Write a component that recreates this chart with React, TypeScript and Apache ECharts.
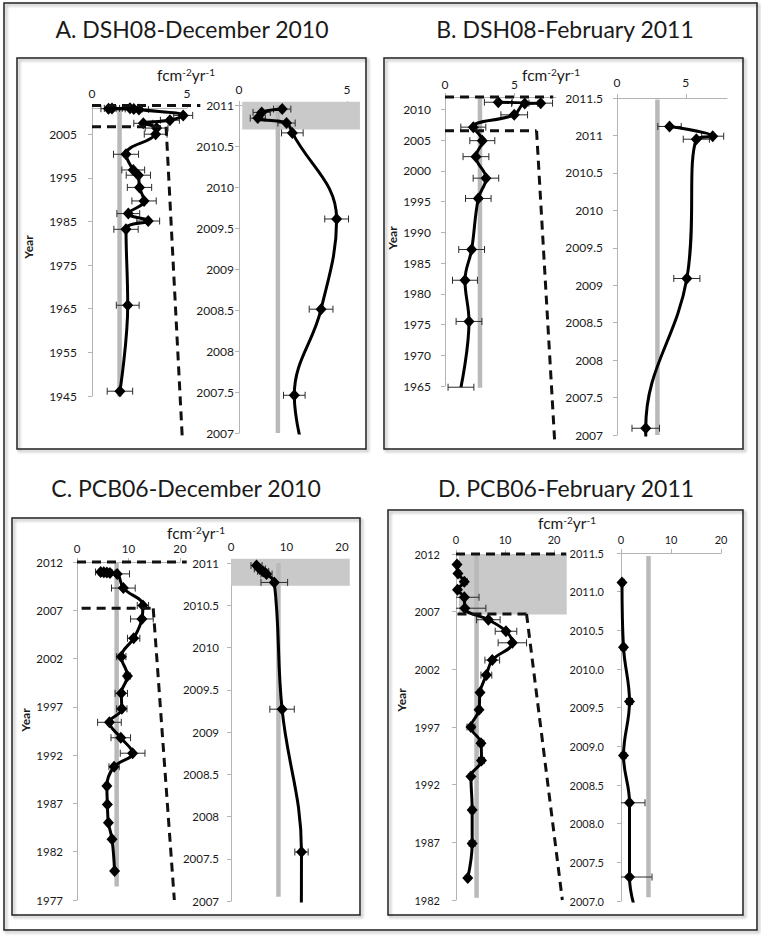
import React, { useEffect, useRef } from "react";
import * as echarts from "echarts";

const FONT = "Lato, 'Open Sans', 'DejaVu Sans', sans-serif";

// ---------- texts ----------
const panelTitles = [
  "A. DSH08-December 2010",
  "B. DSH08-February 2011",
  "C. PCB06-December 2010",
  "D. PCB06-February 2011",
];
const yAxisName = "Year";

// ---------- Panel A: DSH08 December 2010 ----------
const aMainYears = [2010.95, 2010.91, 2010.84, 2010.78, 2010.66, 2009.3, 2008.2, 2007.5, 2006.4, 2005.0, 2000.4, 1996.8, 1995.6, 1992.8, 1989.7, 1986.8, 1985.1, 1983.2, 1965.8, 1946.1];
const aMainFlux = [2.0, 1.05, 0.87, 2.2, 2.47, 4.8, 4.1, 2.7, 3.4, 3.35, 1.79, 2.17, 2.44, 2.5, 2.74, 1.91, 2.96, 1.79, 1.88, 1.47];
const aMainErr = [0.4, 0.4, 0.4, 0.45, 0.5, 0.5, 0.5, 0.5, 0.6, 0.6, 0.66, 0.6, 0.64, 0.64, 0.64, 0.6, 0.6, 0.64, 0.6, 0.67];
const aZoomYears = [2010.95, 2010.91, 2010.84, 2010.78, 2010.66, 2009.61, 2008.51, 2007.46];
const aZoomFlux = [2.0, 1.05, 0.87, 2.2, 2.47, 4.52, 3.8, 2.56];
const aZoomErr = [0.4, 0.4, 0.35, 0.4, 0.5, 0.55, 0.55, 0.5];
const aMainXTicks = [0, 5];
const aMainYTicks = [1945, 1955, 1965, 1975, 1985, 1995, 2005];
const aZoomXTicks = [0, 5];
const aZoomYTicks = [2007, 2007.5, 2008, 2008.5, 2009, 2009.5, 2010, 2010.5, 2011];
const aMainRef = 1.45;
const aMainRefSpan = [2011, 1944.8];
const aZoomRef = 1.8;
const aZoomRefSpan = [2011, 2007];
const aZoomShade = [0.15, 2010.7, 5.6, 2011.04];
const aConnTop = [[0, 2011.6], [5.7, 2011.6]];
const aConnBottom = [[0, 2006.7], [3.9, 2006.7], [4.75, 1935.5]];

// ---------- Panel B: DSH08 February 2011 ----------
const bMainYears = [2011.15, 2011.0, 2010.95, 2009.1, 2007.1, 2004.9, 2002.3, 1998.8, 1995.5, 1987.2, 1982.2, 1975.5, 1964.8];
const bMainFlux = [3.84, 6.9, 5.75, 4.99, 2.04, 2.69, 2.23, 2.95, 2.4, 1.92, 1.44, 1.73, 1.15];
const bMainErr = [1.0, 0.85, 0.95, 0.96, 0.9, 0.9, 0.93, 0.92, 0.92, 0.93, 0.9, 0.93, 0.93];
const bZoomYears = [2011.12, 2010.99, 2010.95, 2009.09, 2007.09];
const bZoomFlux = [3.82, 6.96, 5.77, 5.08, 2.09];
const bZoomErr = [0.85, 0.8, 0.95, 0.95, 1.0];
const bMainXTicks = [0, 5];
const bMainYTicks = [1965, 1970, 1975, 1980, 1985, 1990, 1995, 2000, 2005, 2010];
const bZoomXTicks = [0, 5];
const bZoomYTicks = [2007, 2007.5, 2008, 2008.5, 2009, 2009.5, 2010, 2010.5, 2011, 2011.5];
const bMainRef = 2.52;
const bMainRefSpan = [2012, 1964.7];
const bZoomRef = 2.94;
const bZoomRefSpan = [2011.48, 2007];
const bConnTop = [[0, 2012], [7.8, 2012]];
const bConnBottom = [[0, 2006.5], [6.6, 2006.5], [7.9, 1956.2]];

// ---------- Panel C: PCB06 December 2010 ----------
const cMainYears = [2010.97, 2010.93, 2010.9, 2010.87, 2010.77, 2009.3, 2007.5, 2006.1, 2004.1, 2002.2, 2000.2, 1998.4, 1996.8, 1995.4, 1993.8, 1992.2, 1990.8, 1988.8, 1986.9, 1985.0, 1983.3, 1980.0];
const cMainFlux = [4.6, 5.2, 5.8, 6.4, 7.8, 9.0, 12.8, 12.6, 11.0, 8.6, 9.8, 8.6, 8.7, 6.3, 8.5, 10.8, 7.2, 5.8, 5.9, 6.1, 6.8, 7.3];
const cMainErr = [1.0, 1.0, 1.0, 1.0, 2.4, 2.3, 1.1, 2.2, 1.2, 0.9, 0.6, 1.2, 1.0, 2.3, 1.9, 2.4, 1.0, 0.4, 0.4, 0.4, 0.4, 0.3];
const cZoomYears = [2010.97, 2010.93, 2010.9, 2010.87, 2010.77, 2009.27, 2007.58];
const cZoomFlux = [4.6, 5.2, 5.8, 6.4, 7.8, 9.2, 12.7];
const cZoomErr = [1.0, 1.0, 1.0, 1.0, 2.4, 2.2, 1.2];
const cMainXTicks = [0, 10, 20];
const cMainYTicks = [1977, 1982, 1987, 1992, 1997, 2002, 2007, 2012];
const cZoomXTicks = [0, 10, 20];
const cZoomYTicks = [2007, 2007.5, 2008, 2008.5, 2009, 2009.5, 2010, 2010.5, 2011];
const cMainRef = 7.7;
const cMainRefSpan = [2012, 1978.4];
const cZoomRef = 8.55;
const cZoomRefSpan = [2011, 2007.05];
const cZoomShade = [0, 2010.73, 21.4, 2011.05];
const cConnTop = [[0, 2012], [21.3, 2012]];
const cConnBottom = [[0.9, 2007.2], [14.8, 2007.2], [18.9, 1977]];

// ---------- Panel D: PCB06 February 2011 ----------
const dMainYears = [2011.1, 2010.3, 2009.6, 2008.9, 2008.25, 2007.3, 2006.3, 2005.3, 2004.3, 2002.8, 2001.5, 2000.0, 1998.5, 1997.0, 1995.6, 1994.1, 1992.7, 1989.8, 1986.9, 1983.9];
const dMainFlux = [0.2, 0.4, 1.7, 0.3, 1.7, 1.8, 6.6, 10.2, 11.5, 7.4, 6.2, 4.9, 4.7, 3.05, 5.1, 5.2, 3.05, 3.3, 3.3, 2.4];
const dMainErr = [0.5, 0.5, 0.6, 0.5, 3.0, 4.3, 2.4, 2.2, 2.9, 1.5, 1.1, 0.4, 0.4, 0.8, 0.6, 0.6, 0.3, 0.5, 0.6, 0.3];
const dZoomYears = [2011.12, 2010.28, 2009.58, 2008.88, 2008.27, 2007.31];
const dZoomFlux = [0.2, 0.5, 1.7, 0.5, 1.7, 1.7];
const dZoomErr = [0.5, 0.5, 0.6, 0.5, 3.1, 4.5];
const dMainXTicks = [0, 10, 20];
const dMainYTicks = [1982, 1987, 1992, 1997, 2002, 2007, 2012];
const dZoomXTicks = [0, 10, 20];
const dZoomYTicks = [2007, 2007.5, 2008, 2008.5, 2009, 2009.5, 2010, 2010.5, 2011, 2011.5];
const dMainRef = 4.2;
const dMainRefSpan = [2012, 1982.2];
const dZoomRef = 5.5;
const dZoomRefSpan = [2011.46, 2007.05];
const dMainShade = [0.6, 2006.75, 22.6, 2012];
const dConnTop = [[0, 2012], [22.5, 2012]];
const dConnBottom = [[0.3, 2006.8], [14.4, 2006.8], [21.7, 1982]];

// ---------- layout (positions / styles) ----------
const AXIS = "#b4b4b4";
const TEXT = "#1a1a1a";

type Plot = {
  box: number[];
  xMax: number;
  yMin: number;
  yMax: number;
  xTicks: number[];
  yTicks: number[];
  yDec: number;
  xMargin: number;
  yMargin: number;
  fs: number;
  years: number[];
  flux: number[];
  err: number[];
  tail: number[] | null;
  ref: number;
  refSpan: number[];
  shade: number[] | null;
  connectors: number[][][];
};

function tailOf(years: number[], flux: number[], yMin: number): number[] | null {
  const i = years.findIndex((y) => y < yMin);
  return i >= 0 ? [flux[i], years[i]] : null;
}

const plots: Plot[] = [
  { box: [92, 108, 95, 288], xMax: 5, yMin: 1945, yMax: 2011, xTicks: aMainXTicks, yTicks: aMainYTicks, yDec: 0, xMargin: 9, yMargin: 15, fs: 12,
    years: aMainYears, flux: aMainFlux, err: aMainErr, tail: null, ref: aMainRef, refSpan: aMainRefSpan, shade: null, connectors: [aConnTop, aConnBottom] },
  { box: [239, 105, 108, 328], xMax: 5, yMin: 2007, yMax: 2011, xTicks: aZoomXTicks, yTicks: aZoomYTicks, yDec: -1, xMargin: 10, yMargin: 5, fs: 12,
    years: aZoomYears, flux: aZoomFlux, err: aZoomErr, tail: tailOf(aMainYears, aMainFlux, 2007), ref: aZoomRef, refSpan: aZoomRefSpan, shade: aZoomShade, connectors: [] },
  { box: [445, 97, 111, 289], xMax: 8, yMin: 1965, yMax: 2012, xTicks: bMainXTicks, yTicks: bMainYTicks, yDec: 0, xMargin: 7, yMargin: 14, fs: 12,
    years: bMainYears, flux: bMainFlux, err: bMainErr, tail: null, ref: bMainRef, refSpan: bMainRefSpan, shade: null, connectors: [bConnTop, bConnBottom] },
  { box: [617, 98, 110, 337], xMax: 8, yMin: 2007, yMax: 2011.5, xTicks: bZoomXTicks, yTicks: bZoomYTicks, yDec: -1, xMargin: 10, yMargin: 14, fs: 12,
    years: bZoomYears, flux: bZoomFlux, err: bZoomErr, tail: tailOf(bMainYears, bMainFlux, 2007), ref: bZoomRef, refSpan: bZoomRefSpan, shade: null, connectors: [] },
  { box: [77, 562, 103, 338], xMax: 20, yMin: 1977, yMax: 2012, xTicks: cMainXTicks, yTicks: cMainYTicks, yDec: 0, xMargin: 8, yMargin: 14, fs: 11.5,
    years: cMainYears, flux: cMainFlux, err: cMainErr, tail: null, ref: cMainRef, refSpan: cMainRefSpan, shade: null, connectors: [cConnTop, cConnBottom] },
  { box: [231, 563, 111, 338], xMax: 20, yMin: 2007, yMax: 2011, xTicks: cZoomXTicks, yTicks: cZoomYTicks, yDec: -1, xMargin: 11, yMargin: 12, fs: 11.5,
    years: cZoomYears, flux: cZoomFlux, err: cZoomErr, tail: tailOf(cMainYears, cMainFlux, 2007), ref: cZoomRef, refSpan: cZoomRefSpan, shade: cZoomShade, connectors: [] },
  { box: [456, 554, 98, 346], xMax: 20, yMin: 1982, yMax: 2012, xTicks: dMainXTicks, yTicks: dMainYTicks, yDec: 0, xMargin: 9, yMargin: 16, fs: 11,
    years: dMainYears, flux: dMainFlux, err: dMainErr, tail: null, ref: dMainRef, refSpan: dMainRefSpan, shade: dMainShade, connectors: [dConnTop, dConnBottom] },
  { box: [621, 553, 100, 348], xMax: 20, yMin: 2007, yMax: 2011.5, xTicks: dZoomXTicks, yTicks: dZoomYTicks, yDec: 1, xMargin: 8, yMargin: 17, fs: 11,
    years: dZoomYears, flux: dZoomFlux, err: dZoomErr, tail: tailOf(dMainYears, dMainFlux, 2007), ref: dZoomRef, refSpan: dZoomRefSpan, shade: null, connectors: [] },
];

const frames = [
  [4, 3, 753, 927],
  [17, 58, 349, 391],
  [384, 58, 359, 391],
  [12, 518, 348, 397],
  [388, 510, 355, 405],
];
const titlePos = [[192, 29], [565, 29], [186, 488], [566, 488]];
const unitPos = [[186, 75], [551, 75], [196, 533], [567, 523]];
const yearPos = [[28, 247], [392, 238], [25, 720], [401, 700]];

function errRender(_params: any, api: any) {
  const x = api.value(0) as number;
  const y = api.value(1) as number;
  const e = api.value(2) as number;
  const lo = Math.max(x - e, 0);
  const p0 = api.coord([lo, y]);
  const p1 = api.coord([x + e, y]);
  const st = { stroke: "#2a2a2a", lineWidth: 1 };
  const h = 3.5;
  const children: any[] = [
    { type: "line", shape: { x1: p0[0], y1: p0[1], x2: p1[0], y2: p1[1] }, style: st },
    { type: "line", shape: { x1: p1[0], y1: p1[1] - h, x2: p1[0], y2: p1[1] + h }, style: st },
  ];
  if (x - e >= 0) {
    children.push({ type: "line", shape: { x1: p0[0], y1: p0[1] - h, x2: p0[0], y2: p0[1] + h }, style: st });
  }
  return { type: "group", children };
}

function shadeRender(_params: any, api: any) {
  const a = api.coord([api.value(0), api.value(1)]);
  const b = api.coord([api.value(2), api.value(3)]);
  return {
    type: "rect",
    shape: { x: Math.min(a[0], b[0]), y: Math.min(a[1], b[1]), width: Math.abs(b[0] - a[0]), height: Math.abs(b[1] - a[1]) },
    style: { fill: "#c9c9c9" },
  };
}

function connRender(_params: any, api: any) {
  const a = api.coord([api.value(0), api.value(1)]);
  const b = api.coord([api.value(2), api.value(3)]);
  return {
    type: "line",
    shape: { x1: a[0], y1: a[1], x2: b[0], y2: b[1] },
    style: { stroke: "#111", lineWidth: 3, lineDash: [9, 6] },
  };
}

function fmtYear(v: number, dec: number) {
  if (dec >= 0) return v.toFixed(dec);
  return String(v);
}

function buildOption() {
  const grid = plots.map((p) => ({ left: p.box[0], top: p.box[1], width: p.box[2], height: p.box[3], containLabel: false }));
  const xAxis = plots.map((p, i) => ({
    type: "value",
    gridIndex: i,
    position: "top",
    min: 0,
    max: p.xMax,
    axisLine: { show: true, onZero: false, lineStyle: { color: AXIS, width: 1 } },
    axisTick: { show: true, length: 4, customValues: p.xTicks, lineStyle: { color: AXIS } },
    axisLabel: { customValues: p.xTicks, margin: p.xMargin, fontSize: p.fs, color: TEXT, fontFamily: FONT, formatter: (v: number) => String(v) },
    splitLine: { show: false },
  }));
  const yAxis = plots.map((p, i) => ({
    type: "value",
    gridIndex: i,
    position: "left",
    min: p.yMin,
    max: p.yMax,
    axisLine: { show: true, onZero: false, lineStyle: { color: AXIS, width: 1 } },
    axisTick: { show: true, length: 4, customValues: p.yTicks, lineStyle: { color: AXIS } },
    axisLabel: { customValues: p.yTicks, margin: p.yMargin, fontSize: p.fs, color: TEXT, fontFamily: FONT, formatter: (v: number) => fmtYear(v, p.yDec) },
    splitLine: { show: false },
  }));

  const series: any[] = [];
  plots.forEach((p, i) => {
    const ax = { xAxisIndex: i, yAxisIndex: i };
    if (p.shade) {
      series.push({ type: "custom", ...ax, clip: false, silent: true, z: 1, encode: { x: [0, 2], y: [1, 3] }, data: [p.shade], renderItem: shadeRender });
    }
    series.push({
      type: "line", ...ax, silent: true, z: 2, symbol: "none", clip: false,
      lineStyle: { color: "#b9b9b9", width: 4.5 },
      data: p.refSpan.map((y) => [p.ref, y]),
    });
    series.push({
      type: "custom", ...ax, clip: false, silent: true, z: 3, encode: { x: 0, y: 1 },
      data: p.years.map((y, k) => [p.flux[k], y, p.err[k]]),
      renderItem: errRender,
    });
    const pts = p.years.map((y, k) => [p.flux[k], y]);
    if (p.tail) pts.push(p.tail);
    series.push({
      type: "line", ...ax, silent: true, z: 4, smooth: 0.4, clip: true,
      symbol: "diamond", symbolSize: [11, 12], showSymbol: true,
      itemStyle: { color: "#000" },
      lineStyle: { color: "#000", width: 3 },
      data: pts,
    });
    const segs: number[][] = [];
    p.connectors.forEach((c) => {
      for (let k = 0; k < c.length - 1; k++) segs.push([c[k][0], c[k][1], c[k + 1][0], c[k + 1][1]]);
    });
    if (segs.length) {
      series.push({
        type: "custom", ...ax, clip: false, silent: true, z: 5,
        encode: { x: [0, 2], y: [1, 3] }, data: segs, renderItem: connRender,
      });
    }
  });

  const graphic: any[] = [];
  frames.forEach((f) => {
    graphic.push({
      type: "rect", silent: true, z: 0,
      shape: { x: f[0], y: f[1], width: f[2], height: f[3] },
      style: { fill: "none", stroke: "#222", lineWidth: 1.5, shadowBlur: 3, shadowColor: "rgba(0,0,0,0.35)", shadowOffsetX: 2, shadowOffsetY: 2 },
    });
  });
  panelTitles.forEach((t, k) => {
    graphic.push({
      type: "text", silent: true, x: titlePos[k][0], y: titlePos[k][1],
      style: { text: t, font: `23px ${FONT}`, fill: TEXT, align: "center", verticalAlign: "middle", textAlign: "center", textVerticalAlign: "middle" },
    });
  });
  unitPos.forEach((u) => {
    graphic.push({
      type: "text", silent: true, x: u[0], y: u[1],
      style: {
        text: "{a|fcm}{s|-2}{a|yr}{s|-1}",
        rich: {
          a: { fontSize: 15.5, fontFamily: FONT, fill: TEXT },
          s: { fontSize: 10, fontFamily: FONT, fill: TEXT, verticalAlign: "top" },
        },
        align: "center", verticalAlign: "middle", textAlign: "center", textVerticalAlign: "middle",
      },
    });
  });
  yearPos.forEach((u) => {
    graphic.push({
      type: "text", silent: true, x: u[0], y: u[1], rotation: Math.PI / 2,
      style: { text: yAxisName, font: `bold 12px ${FONT}`, fill: TEXT, align: "center", verticalAlign: "middle", textAlign: "center", textVerticalAlign: "middle" },
    });
  });

  return { animation: false, backgroundColor: "#fff", grid, xAxis, yAxis, series, graphic };
}

export default function App() {
  const ref = useRef<HTMLDivElement>(null);
  useEffect(() => {
    const chart = echarts.init(ref.current as HTMLDivElement, null, { renderer: "svg" });
    chart.setOption(buildOption() as any);
    return () => chart.dispose();
  }, []);
  return <div ref={ref} style={{ position: "absolute", left: 0, top: 0, width: 761, height: 938, background: "#fff" }} />;
}
